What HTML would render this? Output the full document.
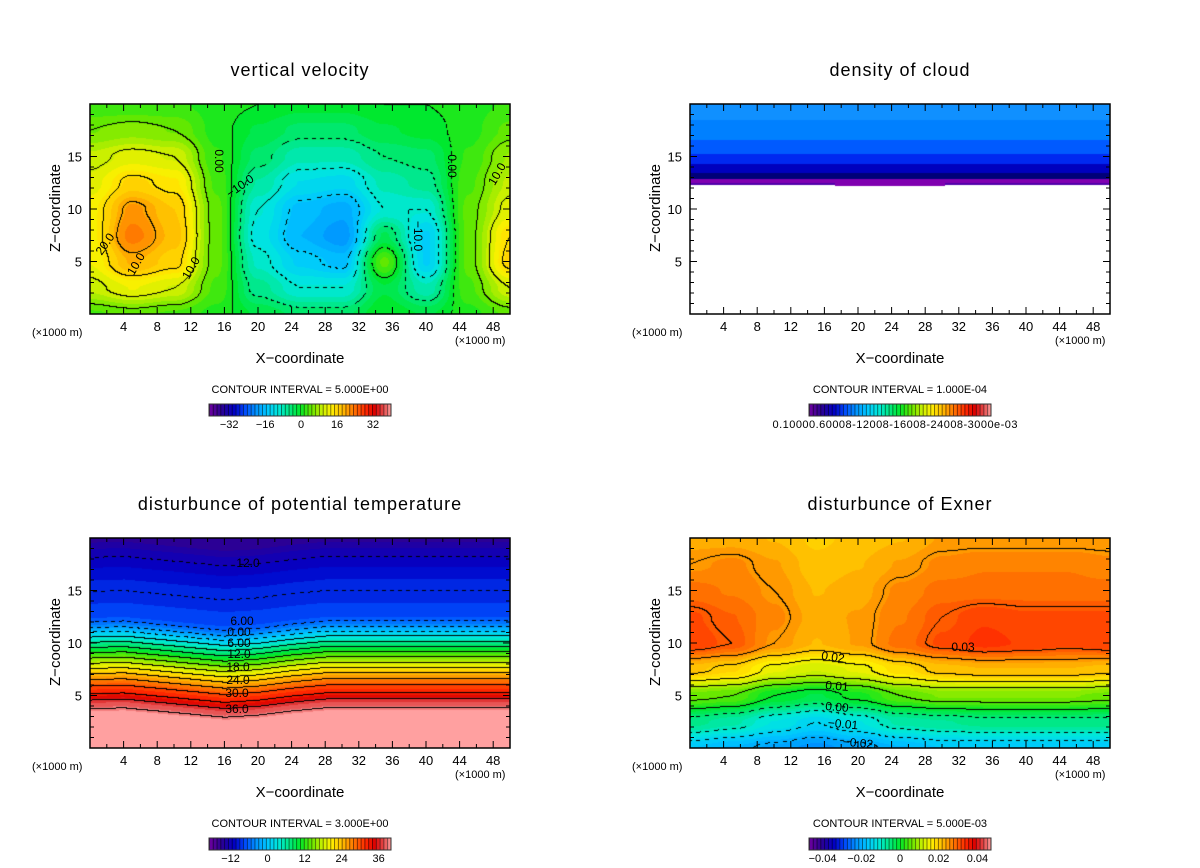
<!DOCTYPE html>
<html><head><meta charset="utf-8">
<style>
body{margin:0;background:#fff;width:1200px;height:868px;overflow:hidden;position:relative;font-family:"Liberation Sans",sans-serif}
canvas{position:absolute}
svg{position:absolute;left:0;top:0}
</style></head>
<body>
<canvas id="c0" width="420" height="210" style="left:90px;top:104px"></canvas>
<canvas id="c1" width="420" height="210" style="left:690px;top:104px"></canvas>
<canvas id="c2" width="420" height="210" style="left:90px;top:538px"></canvas>
<canvas id="c3" width="420" height="210" style="left:690px;top:538px"></canvas>
<svg id="ov" width="1200" height="868"></svg>
<script>
// ---- data ----
const gridX = [0,5,10,15,20,25,30,35,40,45,50];
const gridZ = [0,2.5,5,7.5,10,12.5,15,17.5,20];
const wValues = [
 [3,4,3,1,-2,-4,-4,0,-2,1,4],
 [9,12,10,3,-6,-10,-10,-2,-8,3,10],
 [12,19,16,4,-9,-14,-16,4,-14,4,16],
 [13,23,18,4,-11,-17,-20,-3,-14,4,15],
 [13,21,17,4,-10,-16,-18,-10,-10,4,11],
 [11,16,14,3,-7,-12,-13,-8,-6,3,9],
 [9,11,10,2,-4,-8,-8,-5,-4,2,7],
 [5,6,5,1,-2,-4,-4,-2,-1,1,4],
 [2,2,2,1,0,-1,-1,0,0,1,2]];
const exnerValues = [
 [-17,-19,-21,-23,-21,-19,-17,-17,-17,-17,-17],
 [-6,-8,-12,-15,-12,-8,-7,-6,-6,-6,-6],
 [6,5,0,-2,1,5,7,7,7,7,6],
 [21,19,14,12,14,18,21,22,22,22,21],
 [32,30,25,22,24,28,31,33,32,31,32],
 [31,29,26,23,24,27,30,32,31,31,31],
 [28,27,25,22,23,26,28,28,28,28,28],
 [25,26,24,21,22,24,26,27,27,27,26],
 [23,23,22,20,21,22,24,24,24,24,24]];
const thetaProfileZ = [0,3.5,4.5,5,6,7,8,9,10,11,11.7,12.3,14,16,17.5,19,20];
const thetaProfileV = [42,40,37,34,30,25,19,13,7,1,-4,-7,-8.5,-9.5,-11,-13,-15];
const thetaShiftX = [0,4,8,12,16,20,24,28,32,36,40,44,48,50];
const thetaShift = [0.1,0,0.3,0.6,0.9,0.7,0.3,0,0,0,0,0,0,0];
const cloudProfileZ = [12.3,12.8,13.3,14,15,16.5,18,20];
const cloudProfileV = [0.2,0.6,1.0,1.4,1.9,2.4,2.8,3.1];
const xTickLabels = [4,8,12,16,20,24,28,32,36,40,44,48];
const zTickLabels = [5,10,15];
const wBarLabels = [-32,-16,0,16,32];
const thetaBarLabels = [-12,0,12,24,36];
const exnerBarLabels = ["-0.04","-0.02","0","0.02","0.04"];

// ---- helpers ----
const W=420,H=210;
const xs = x=> x/50*W;
const zs = z=> H - z/20*H;
const cmapT=[0,0.06,0.14,0.2,0.26,0.32,0.38,0.44,0.5,0.56,0.62,0.67,0.73,0.8,0.86,0.91,0.96,1];
const cmapC=[[112,0,160],[48,0,144],[0,0,200],[0,80,255],[0,150,255],[0,200,255],[0,232,220],[0,232,130],[0,232,40],[100,232,0],[200,240,0],[255,240,0],[255,190,0],[255,110,0],[255,40,0],[220,0,0],[230,80,80],[255,160,160]];
function cmap(t){t=Math.max(0,Math.min(1,t));for(let i=1;i<cmapT.length;i++){if(t<=cmapT[i]){const f=(t-cmapT[i-1])/(cmapT[i]-cmapT[i-1]);const a=cmapC[i-1],b=cmapC[i];return [a[0]+(b[0]-a[0])*f,a[1]+(b[1]-a[1])*f,a[2]+(b[2]-a[2])*f];}}return cmapC[cmapC.length-1];}
function interp1(xa,ya,x){if(x<=xa[0])return ya[0];for(let i=1;i<xa.length;i++){if(x<=xa[i]){const f=(x-xa[i-1])/(xa[i]-xa[i-1]);return ya[i-1]+(ya[i]-ya[i-1])*f;}}return ya[ya.length-1];}
function bilin(grid,x,z){
  let i=0;while(i<gridX.length-2&&x>gridX[i+1])i++;
  let j=0;while(j<gridZ.length-2&&z>gridZ[j+1])j++;
  const fx=Math.min(1,Math.max(0,(x-gridX[i])/(gridX[i+1]-gridX[i])));
  const fz=Math.min(1,Math.max(0,(z-gridZ[j])/(gridZ[j+1]-gridZ[j])));
  const a=grid[j][i],b=grid[j][i+1],c=grid[j+1][i],d=grid[j+1][i+1];
  const s=x=>x*x*(3-2*x);const gx=s(fx),gz=s(fz);
  return (a*(1-gx)+b*gx)*(1-gz)+(c*(1-gx)+d*gx)*gz;
}
function render(id,fn,vmin,vmax,fillStep,lineStep){
  const cv=document.getElementById(id),ctx=cv.getContext('2d');
  const img=ctx.createImageData(W,H),vals=new Float32Array(W*H);
  for(let py=0;py<H;py++)for(let px=0;px<W;px++){vals[py*W+px]=fn(px/W*50,(H-py)/H*20);}
  for(let py=0;py<H;py++)for(let px=0;px<W;px++){
    const v=vals[py*W+px];const q=(Math.floor(v/fillStep)+0.5)*fillStep;
    let c=cmap((q-vmin)/(vmax-vmin));
    const L=Math.floor(v/lineStep);
    let line=false;
    if(px<W-1&&Math.floor(vals[py*W+px+1]/lineStep)!==L)line=true;
    if(py<H-1&&Math.floor(vals[(py+1)*W+px]/lineStep)!==L)line=true;
    if(line&&v<0&&((px+py)%8)>=4)line=false;
    if(line)c=[0,0,0];
    const k=(py*W+px)*4;img.data[k]=c[0];img.data[k+1]=c[1];img.data[k+2]=c[2];img.data[k+3]=255;
  }
  ctx.putImageData(img,0,0);
}
render('c0',(x,z)=>bilin(wValues,x,z),-41,40,1.7,5);
render('c2',(x,z)=>interp1(thetaProfileZ,thetaProfileV,z+interp1(thetaShiftX,thetaShift,x)),-19,40,1.2,3);
render('c3',(x,z)=>bilin(exnerValues,x,z)/1000,-0.047,0.047,0.0017,0.005);
// cloud
(function(){
  const ctx=document.getElementById('c1').getContext('2d');
  const cstops=[[112,0,176],[80,0,170],[0,0,120],[0,0,190],[0,40,240],[0,90,255],[0,128,255],[16,144,255]];
  for(let py=0;py<H;py++){
    const z=(H-py)/H*20;if(z<cloudProfileZ[0])continue;
    const v=interp1(cloudProfileZ,cloudProfileV,z);
    const c=cstops[Math.min(cstops.length-1,Math.floor(v/3.1*(cstops.length-1)+0.5))];
    ctx.fillStyle=`rgb(${c[0]},${c[1]},${c[2]})`;ctx.fillRect(0,py,W,1);
  }
  ctx.fillStyle='rgb(128,0,176)';ctx.fillRect(145,78,110,4);ctx.fillRect(0,75,W,4);
})();

// ---- overlay ----
const NS='http://www.w3.org/2000/svg',ov=document.getElementById('ov');
function el(tag,attrs,parent){const e=document.createElementNS(NS,tag);for(const k in attrs)e.setAttribute(k,attrs[k]);(parent||ov).appendChild(e);return e;}
function txt(x,y,s,size,anchor,parent,extra){const t=el('text',Object.assign({x:x,y:y,'font-size':size,'text-anchor':anchor||'middle','font-family':'Liberation Sans, sans-serif',fill:'#000'},extra||{}),parent);t.textContent=s;return t;}
const panels=[
 {ox:0,oy:0,title:'vertical velocity',ci:'5.000E+00',name:'vertical-velocity',bar:wBarLabels,bmin:-41,bmax:40},
 {ox:600,oy:0,title:'density of cloud',ci:'1.000E-04',name:'density-of-cloud',bar:null},
 {ox:0,oy:434,title:'disturbunce of potential temperature',ci:'3.000E+00',name:'potential-temperature',bar:thetaBarLabels,bmin:-19,bmax:40},
 {ox:600,oy:434,title:'disturbunce of Exner',ci:'5.000E-03',name:'exner',bar:exnerBarLabels,bmin:-0.047,bmax:0.047}];
panels.forEach(p=>{
  const g=el('g',{});
  
  
  const L=90+p.ox,T=104+p.oy;
  const t=txt(300+p.ox,76+p.oy,p.title,18,'middle',g,{'letter-spacing':'1'});
  
  el('rect',{x:L,y:T,width:W,height:H,fill:'none',stroke:'#000','stroke-width':1.5},g);
  let d='';
  for(let x=2;x<50;x+=2){const len=x%4===0?7:4;const X=L+xs(x);d+=`M${X} ${T+H}v${-len}M${X} ${T}v${len}`;}
  for(let z=1;z<20;z++){const len=z%5===0?7:4;const Y=T+zs(z);d+=`M${L} ${Y}h${len}M${L+W} ${Y}h${-len}`;}
  el('path',{d:d,stroke:'#000','stroke-width':1,fill:'none'},g);
  xTickLabels.forEach(v=>{const e=txt(L+xs(v),T+H+17,String(v),13,'middle',g);});
  zTickLabels.forEach(v=>{const e=txt(L-8,T+zs(v)+5,String(v),13,'end',g);});
  txt(32+p.ox,336+p.oy,'(×1000 m)',11,'start',g);
  txt(455+p.ox,344+p.oy,'(×1000 m)',11,'start',g);
  const xt=txt(300+p.ox,363+p.oy,'X−coordinate',15,'middle',g);
  const yt=txt(0,0,'Z−coordinate',15,'middle',g,{transform:`translate(${60+p.ox},${208+p.oy}) rotate(-90)`});
  
  const ci=txt(300+p.ox,393+p.oy,'CONTOUR INTERVAL = '+p.ci,11,'middle',g);
  
  const cb=el('g',{},g);
  
  const bx=209+p.ox,by=404+p.oy,bw=182,bh=12,n=48;
  for(let i=0;i<n;i++){const c=cmap((i+0.5)/n);el('rect',{x:bx+i*bw/n,y:by,width:bw/n+0.3,height:bh,fill:`rgb(${c[0]|0},${c[1]|0},${c[2]|0})`},cb);
    el('rect',{x:bx+i*bw/n,y:by,width:0.9,height:bh,fill:'rgba(0,0,0,0.55)'},cb);}
  el('rect',{x:bx,y:by,width:bw,height:bh,fill:'none',stroke:'#333','stroke-width':1},cb);
  if(p.bar){p.bar.forEach(v=>{const t=(parseFloat(v)-p.bmin)/(p.bmax-p.bmin);txt(bx+t*bw,428+p.oy,String(v).replace('-','−'),11,'middle',cb);});}
  else{txt(895,428,'0.10000.60008-12008-16008-24008-3000e-03',11,'middle',cb,{textLength:245});}
});
const labs=[[105,248,'20.0',-55],[136,268,'10.0',-60],[191,272,'10.0',-60],[219,165,'0.00',90],[240,190,'−10.0',-35],[418,240,'−10.0',90],[452,170,'0.00',90],[497,178,'10.0',-60],
 [248,567,'12.0',0],[242,625,'6.00',0],[239,636,'0.00',0],[239,647,'6.00',0],[239,658,'12.0',0],[238,671,'18.0',0],[238,684,'24.0',0],[237,697,'30.0',0],[237,713,'36.0',0],
 [833,661,'0.02',8],[837,690,'0.01',5],[837,711,'0.00',5],[843,728,'−0.01',5],[858,747,'−0.02',5],[963,651,'0.03',0]];
labs.forEach(l=>{const e=txt(l[0],l[1],l[2],12,'middle',ov,{transform:`rotate(${l[3]} ${l[0]} ${l[1]-4})`});});
</script>
</body></html>
